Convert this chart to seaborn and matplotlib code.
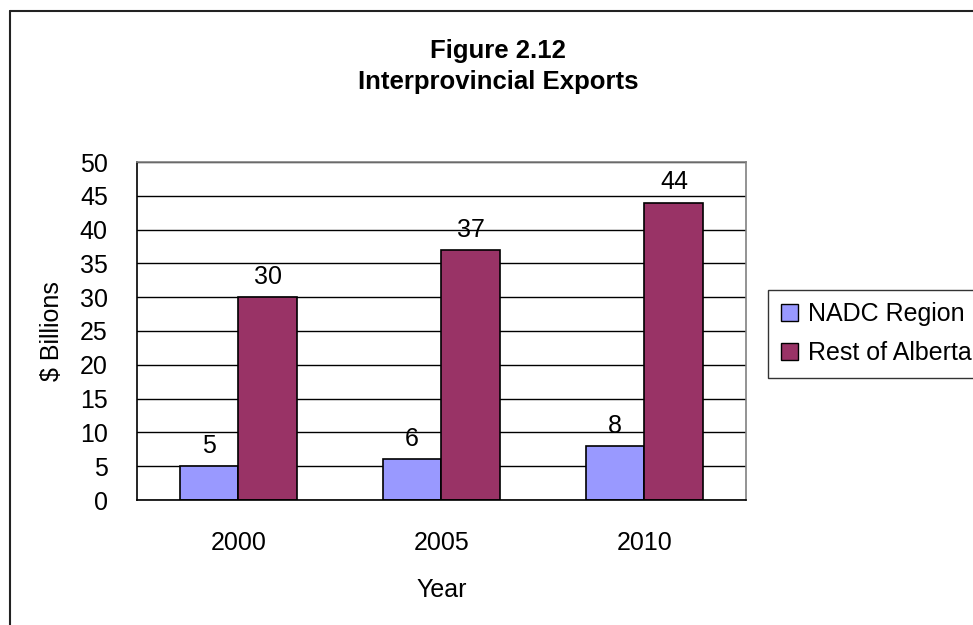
import pandas as pd
import matplotlib.pyplot as plt
import seaborn as sns
from matplotlib.lines import Line2D

# Chart values
years = ['2000', '2005', '2010']
nadc_region = [5, 6, 8]
rest_of_alberta = [30, 37, 44]
series_names = ['NADC Region', 'Rest of Alberta']
colors = ['#9999FF', '#993366']

df = pd.DataFrame({
    'Year': years * 2,
    'Value': nadc_region + rest_of_alberta,
    'Series': [series_names[0]] * 3 + [series_names[1]] * 3,
})

sns.set_style('white')
plt.rcParams['font.family'] = ['Liberation Sans', 'DejaVu Sans']
plt.rcParams.update({'text.color': 'black', 'axes.labelcolor': 'black',
                     'xtick.color': 'black', 'ytick.color': 'black'})

W, H = 973, 625
fig = plt.figure(figsize=(W / 100, H / 100), dpi=100)
# plot area in pixels: left 137, right 746, top 162, bottom 500
ax = fig.add_axes([137 / W, 1 - 500 / H, 609 / W, 338 / H])

sns.barplot(data=df, x='Year', y='Value', hue='Series', palette=colors,
            width=0.58, edgecolor='black', linewidth=1.2, saturation=1,
            ax=ax, legend=False)

# Data labels above each bar
for container in ax.containers:
    ax.bar_label(container, fmt='%g', padding=6, fontsize=18)

ax.set_ylim(0, 50)
ax.set_xlim(-0.5, 2.5)
ax.set_yticks(range(0, 51, 5))
ax.yaxis.grid(True, color='black', linewidth=1)
ax.set_axisbelow(True)

ax.tick_params(axis='y', direction='in', length=8, width=1, labelsize=18, pad=21)
ax.tick_params(axis='x', which='major', length=0, labelsize=18, pad=22)
ax.set_xticks([0.5, 1.5], minor=True)
ax.tick_params(axis='x', which='minor', direction='in', length=8, width=1)

ax.set_xlabel('Year', fontsize=18)
ax.set_ylabel('$ Billions', fontsize=18)
ax.xaxis.set_label_coords(0.5, -(578 - 500) / 338)
ax.yaxis.set_label_coords(-(137 - 64) / 609, 0.5)

for side in ['left', 'bottom']:
    ax.spines[side].set_color('black')
    ax.spines[side].set_linewidth(1.2)
for side in ['top', 'right']:
    ax.spines[side].set_color('#808080')
    ax.spines[side].set_linewidth(1.2)

# Two-line title
fig.text(498 / W, 1 - 58 / H, 'Figure 2.12', ha='center', va='baseline',
         fontsize=18.5, fontweight='bold')
fig.text(498 / W, 1 - 89 / H, 'Interprovincial Exports', ha='center', va='baseline',
         fontsize=18.5, fontweight='bold')

# Legend
handles = [plt.Rectangle((0, 0), 1, 1, facecolor=c, edgecolor='black', linewidth=1)
           for c in colors]
leg = fig.legend(handles, series_names, loc='upper left',
                 bbox_to_anchor=(768 / W, 1 - 290 / H),
                 fontsize=18, frameon=True, fancybox=False,
                 handlelength=0.68, handleheight=0.68, handletextpad=0.4,
                 borderpad=0.5, labelspacing=0.6, borderaxespad=0)
leg.get_frame().set_edgecolor('black')
leg.get_frame().set_linewidth(1)

# Outer chart border (runs past the right and bottom edges)
fig.add_artist(Line2D([10 / W, 10 / W], [0, 1 - 11 / H], color='#222222', lw=1.5,
                      transform=fig.transFigure))
fig.add_artist(Line2D([10 / W, 1], [1 - 11 / H, 1 - 11 / H], color='#222222', lw=1.5,
                      transform=fig.transFigure))

plt.savefig('out.png', dpi=100)
